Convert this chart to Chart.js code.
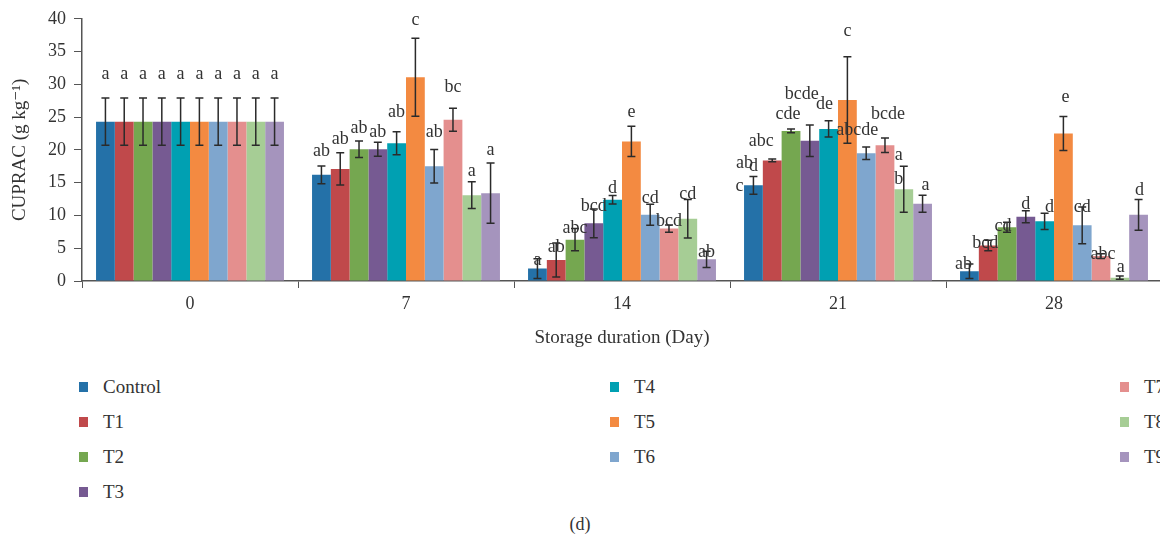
<!DOCTYPE html>
<html>
<head>
<meta charset="utf-8">
<script src="https://cdn.jsdelivr.net/npm/chart.js@4.4.0/dist/chart.umd.min.js"></script>
<style>
  html, body { margin: 0; padding: 0; background: #fff; overflow: hidden; }
  body { width: 1160px; height: 541px; position: relative; font-family: "Liberation Serif", "DejaVu Serif", serif; color: #333; }
  #wrap { position: absolute; left: 0; top: 0; width: 1180px; height: 360px; }
  .leg { position: absolute; font-size: 19px; line-height: 22px; white-space: nowrap; }
  .leg i { position: absolute; left: 0; top: 6px; width: 9px; height: 10px; }
  .leg span { position: absolute; left: 24px; top: 0; }
  #cap { position: absolute; left: 0; width: 1160px; top: 514px; text-align: center; font-size: 18px; }
</style>
</head>
<body>
<div id="wrap"><canvas id="chart" width="1180" height="360"></canvas></div>
<div id="legend"></div>
<div id="cap">(d)</div>
<script>
// storage days
const days = ["0", "7", "14", "21", "28"];
const seriesNames = ["Control", "T1", "T2", "T3", "T4", "T5", "T6", "T7", "T8", "T9"];

// CUPRAC values (g kg-1), one array per treatment, by day
const control = [24.3, 16.2, 1.9, 14.6, 1.5];
const t1 = [24.3, 17.1, 3.2, 18.4, 5.4];
const t2 = [24.3, 20.1, 6.3, 22.9, 8.2];
const t3 = [24.3, 20.1, 8.8, 21.4, 9.8];
const t4 = [24.3, 21.0, 12.4, 23.2, 9.1];
const t5 = [24.3, 31.1, 21.3, 27.6, 22.5];
const t6 = [24.3, 17.5, 10.1, 19.5, 8.5];
const t7 = [24.3, 24.6, 8.0, 20.7, 3.8];
const t8 = [24.3, 13.1, 9.5, 14.0, 0.5];
const t9 = [24.3, 13.4, 3.3, 11.8, 10.1];

// error bar half-widths
const controlErr = [3.6, 1.35, 1.5, 1.35, 1.1];
const t1Err = [3.6, 2.45, 2.6, 0.2, 0.8];
const t2Err = [3.6, 1.25, 1.7, 0.3, 0.75];
const t3Err = [3.6, 1.05, 2.2, 2.4, 0.9];
const t4Err = [3.6, 1.75, 0.65, 1.25, 1.25];
const t5Err = [3.6, 5.95, 2.3, 6.6, 2.6];
const t6Err = [3.6, 2.55, 1.6, 0.95, 2.8];
const t7Err = [3.6, 1.75, 0.55, 1.1, 0.35];
const t8Err = [3.6, 2.05, 2.95, 3.5, 0.25];
const t9Err = [3.6, 4.6, 1.25, 1.3, 2.35];

// significance letters
const controlSig = ["a", "ab", "a", "d", "ab"];
const t1Sig = ["a", "ab", "ab", "abc", "bcd"];
const t2Sig = ["a", "ab", "abc", "cde", "cd"];
const t3Sig = ["a", "ab", "bcd", "bcde", "d"];
const t4Sig = ["a", "ab", "d", "de", "d"];
const t5Sig = ["a", "c", "e", "c", "e"];
const t6Sig = ["a", "ab", "cd", "abcde", "cd"];
const t7Sig = ["a", "bc", "bcd", "bcde", "abc"];
const t8Sig = ["a", "a", "cd", "a", "a"];
const t9Sig = ["a", "a", "ab", "a", "d"];

const values = [control, t1, t2, t3, t4, t5, t6, t7, t8, t9];
const errors = [controlErr, t1Err, t2Err, t3Err, t4Err, t5Err, t6Err, t7Err, t8Err, t9Err];
const letters = [controlSig, t1Sig, t2Sig, t3Sig, t4Sig, t5Sig, t6Sig, t7Sig, t8Sig, t9Sig];

const colors = ["#2471a8", "#c0494b", "#75a750", "#765a92", "#00a0b2",
  "#f38a41", "#7fa6ce", "#e48f8e", "#a6cd95", "#a594bd"];

// letter placement: px above the error bar top, [day][series]
const labelGap = [
  [24, 24, 24, 24, 24, 24, 24, 24, 24, 24],
  [15, 14, 13, 10, 20, 18, 17, 21, 10, 13],
  [-2, -4, 0, 3, 7, 14, 6, 4, 5, -1],
  [10, 18, 15, 31, 16, 26, 17, 24, 11, 10],
  [0, -3, -4, 7, 6, 19, 0, 0, 9, 9],
];
// horizontal nudges for crowded days 21 and 28
const labelShift = { 3: [0, -11, -3, -8, -4, 0, -9, 3, -5, 3], 4: [-6, -3, -4, 0, 5, 2, 0, 2, 1, 1] };
// stray letters sitting next to bars: [series, day, text, dx, gap]
const extraLetters = [
  [0, 3, "ab", -9, 13],
  [0, 3, "c", -14, -10],
  [8, 3, "b", -5, -13],
];

const FONT = "'Liberation Serif', 'DejaVu Serif', serif";

const errorBars = {
  id: "errorBars",
  afterDatasetsDraw(chart) {
    const { ctx } = chart;
    const y = chart.scales.y;
    ctx.save();
    ctx.strokeStyle = "#2b2b2b";
    ctx.lineWidth = 1.5;
    chart.data.datasets.forEach((ds, i) => {
      chart.getDatasetMeta(i).data.forEach((bar, j) => {
        const v = ds.data[j];
        const e = errors[i][j];
        const top = y.getPixelForValue(v + e);
        const bot = y.getPixelForValue(Math.max(v - e, 0));
        ctx.beginPath();
        ctx.moveTo(bar.x, top);
        ctx.lineTo(bar.x, bot);
        ctx.moveTo(bar.x - 4, top);
        ctx.lineTo(bar.x + 4, top);
        ctx.moveTo(bar.x - 4, bot);
        ctx.lineTo(bar.x + 4, bot);
        ctx.stroke();
      });
    });

    // letters
    ctx.fillStyle = "#333";
    ctx.font = "18px " + FONT;
    ctx.textAlign = "center";
    ctx.textBaseline = "middle";
    const put = (i, j, text, dx, gap) => {
      const bar = chart.getDatasetMeta(i).data[j];
      const top = y.getPixelForValue(values[i][j] + errors[i][j]);
      ctx.fillText(text, bar.x + dx, top - gap);
    };
    letters.forEach((row, i) => {
      row.forEach((txt, j) => {
        const dx = labelShift[j] ? labelShift[j][i] : 0;
        put(i, j, txt, dx, labelGap[j][i]);
      });
    });
    extraLetters.forEach(([i, j, txt, dx, gap]) => put(i, j, txt, dx, gap));
    ctx.restore();
  },
};

const datasets = seriesNames.map((name, i) => ({
  label: name,
  data: values[i],
  backgroundColor: colors[i],
  borderWidth: 0,
  barPercentage: 1,
  categoryPercentage: 0.87,
}));

new Chart(document.getElementById("chart"), {
  type: "bar",
  data: { labels: days, datasets },
  options: {
    responsive: false,
    animation: false,
    layout: { padding: { top: 6, right: 18, left: 0, bottom: 0 } },
    plugins: { legend: { display: false }, tooltip: { enabled: false } },
    scales: {
      x: {
        grid: { display: true, drawOnChartArea: false, tickLength: 7, color: "#555", offset: true },
        border: { display: true, color: "#555", width: 1.5 },
        ticks: { color: "#333", font: { family: FONT, size: 18 }, padding: 5 },
        title: { display: true, text: "Storage duration (Day)", color: "#333",
          font: { family: FONT, size: 19 }, padding: { top: 0, bottom: 11 } },
        afterFit(scale) { scale.height = 79; },
      },
      y: {
        min: 0,
        max: 40,
        ticks: { stepSize: 5, color: "#333", font: { family: FONT, size: 18 }, padding: 8 },
        grid: { display: true, drawOnChartArea: false, tickLength: 8, color: "#555" },
        border: { display: true, color: "#555", width: 1.5 },
        title: { display: true, text: "CUPRAC (g kg\u207B\u00B9)", color: "#333",
          font: { family: FONT, size: 19 }, padding: { top: 9, bottom: 0 } },
        afterFit(scale) { scale.width = 82; },
      },
    },
  },
  plugins: [errorBars],
});

// legend, filled column by column
const legend = document.getElementById("legend");
const colX = [79, 610, 1120];
const rowY = [376, 411, 446, 481];
const perCol = [4, 3, 3];
let k = 0;
perCol.forEach((n, c) => {
  for (let r = 0; r < n; r++, k++) {
    const el = document.createElement("div");
    el.className = "leg";
    el.style.left = colX[c] + "px";
    el.style.top = rowY[r] + "px";
    el.innerHTML = '<i style="background:' + colors[k] + '"></i><span>' + seriesNames[k] + "</span>";
    legend.appendChild(el);
  }
});
</script>
</body>
</html>
